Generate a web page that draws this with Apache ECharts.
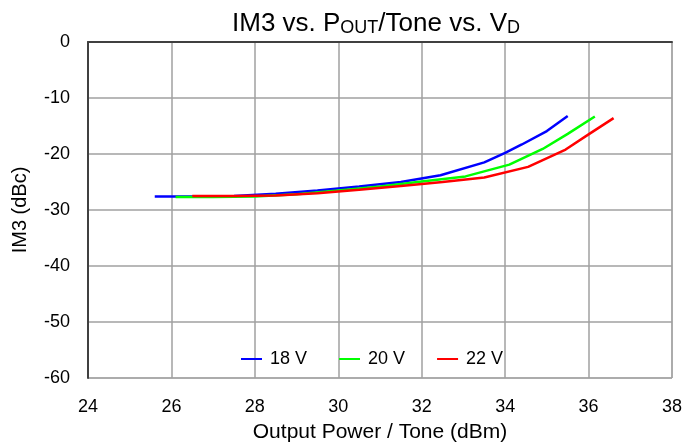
<!DOCTYPE html>
<html><head><meta charset="utf-8">
<script src="https://cdn.jsdelivr.net/npm/echarts@6/dist/echarts.min.js"></script>
<style>html,body{margin:0;padding:0;background:#fff}#c{width:684px;height:444px}</style>
</head><body><div id="c"></div>
<script>
const seriesNames = ['18 V', '20 V', '22 V'];
const colors = ['#0000ff', '#00ff00', '#ff0000'];
const v18 = [[25.6,-27.6],[26.5,-27.6],[27.5,-27.5],[28.5,-27.1],[29.5,-26.5],[30.5,-25.8],[31.5,-25.0],[32.45,-23.8],[33.5,-21.5],[34.0,-19.8],[34.4,-18.3],[35.0,-15.9],[35.5,-13.2]];
const v20 = [[26.1,-27.7],[27.0,-27.7],[28.0,-27.6],[29.0,-27.2],[30.0,-26.5],[31.0,-25.8],[32.0,-24.9],[33.05,-24.0],[34.1,-21.9],[34.9,-19.1],[35.5,-16.4],[36.15,-13.3]];
const v22 = [[26.5,-27.5],[27.5,-27.5],[28.5,-27.4],[29.5,-27.0],[30.5,-26.4],[31.5,-25.7],[32.5,-25.0],[33.5,-24.2],[34.55,-22.3],[35.45,-19.2],[36.0,-16.5],[36.6,-13.6]];
const xTicks = [24,26,28,30,32,34,36,38];
const yTicks = [0,-10,-20,-30,-40,-50,-60];
const data = [v18, v20, v22];

const chart = echarts.init(document.getElementById('c'));
const font = 'Liberation Sans, Arial, sans-serif';
chart.setOption({
  animation: false,
  backgroundColor: '#fff',
  title: {
    text: 'IM3 vs. P{s|OUT}/Tone vs. V{s|D}',
    left: 371, top: 5, textAlign: 'center',
    textStyle: {
      fontFamily: font, fontSize: 26, fontWeight: 'normal', color: '#000',
      rich: { s: { fontFamily: font, fontSize: 18, color: '#000', verticalAlign: 'bottom', padding: [9,0,0,0] } }
    }
  },
  legend: {
    data: seriesNames,
    left: 236, top: 345,
    itemWidth: 21, itemHeight: 2, itemGap: 32,
    icon: 'rect',
    textStyle: { fontFamily: font, fontSize: 18, color: '#000', padding: [0,0,0,3] }
  },
  grid: { left: 88, right: 12, top: 42, bottom: 66, show: true, borderColor: '#a0a0a0', borderWidth: 1, containLabel: false, outerBoundsMode: 'none' },
  xAxis: {
    type: 'value', min: 24, max: 38, interval: 2,
    name: 'Output Power / Tone (dBm)', nameLocation: 'middle', nameGap: 44,
    nameTextStyle: { fontFamily: font, fontSize: 21, color: '#000' },
    axisLine: { show: true, lineStyle: { color: '#404040', width: 2 } },
    axisTick: { show: false },
    axisLabel: { fontFamily: font, fontSize: 18, color: '#000', margin: 20 },
    splitLine: { show: true, lineStyle: { color: '#a0a0a0', width: 1.5 } }
  },
  yAxis: {
    type: 'value', min: -60, max: 0, interval: 10,
    name: 'IM3 (dBc)', nameLocation: 'middle', nameGap: 58,
    nameTextStyle: { fontFamily: font, fontSize: 20, color: '#000' },
    axisLine: { show: true, lineStyle: { color: '#404040', width: 2 } },
    axisTick: { show: false },
    axisLabel: { fontFamily: font, fontSize: 18, color: '#000', margin: 18 },
    splitLine: { show: true, lineStyle: { color: '#a0a0a0', width: 1.5 } }
  },
  series: seriesNames.map((n, i) => ({
    name: n, type: 'line', data: data[i], showSymbol: false, symbol: 'none',
    lineStyle: { color: colors[i], width: 2.5 }, itemStyle: { color: colors[i] }
  }))
});
</script></body></html>
